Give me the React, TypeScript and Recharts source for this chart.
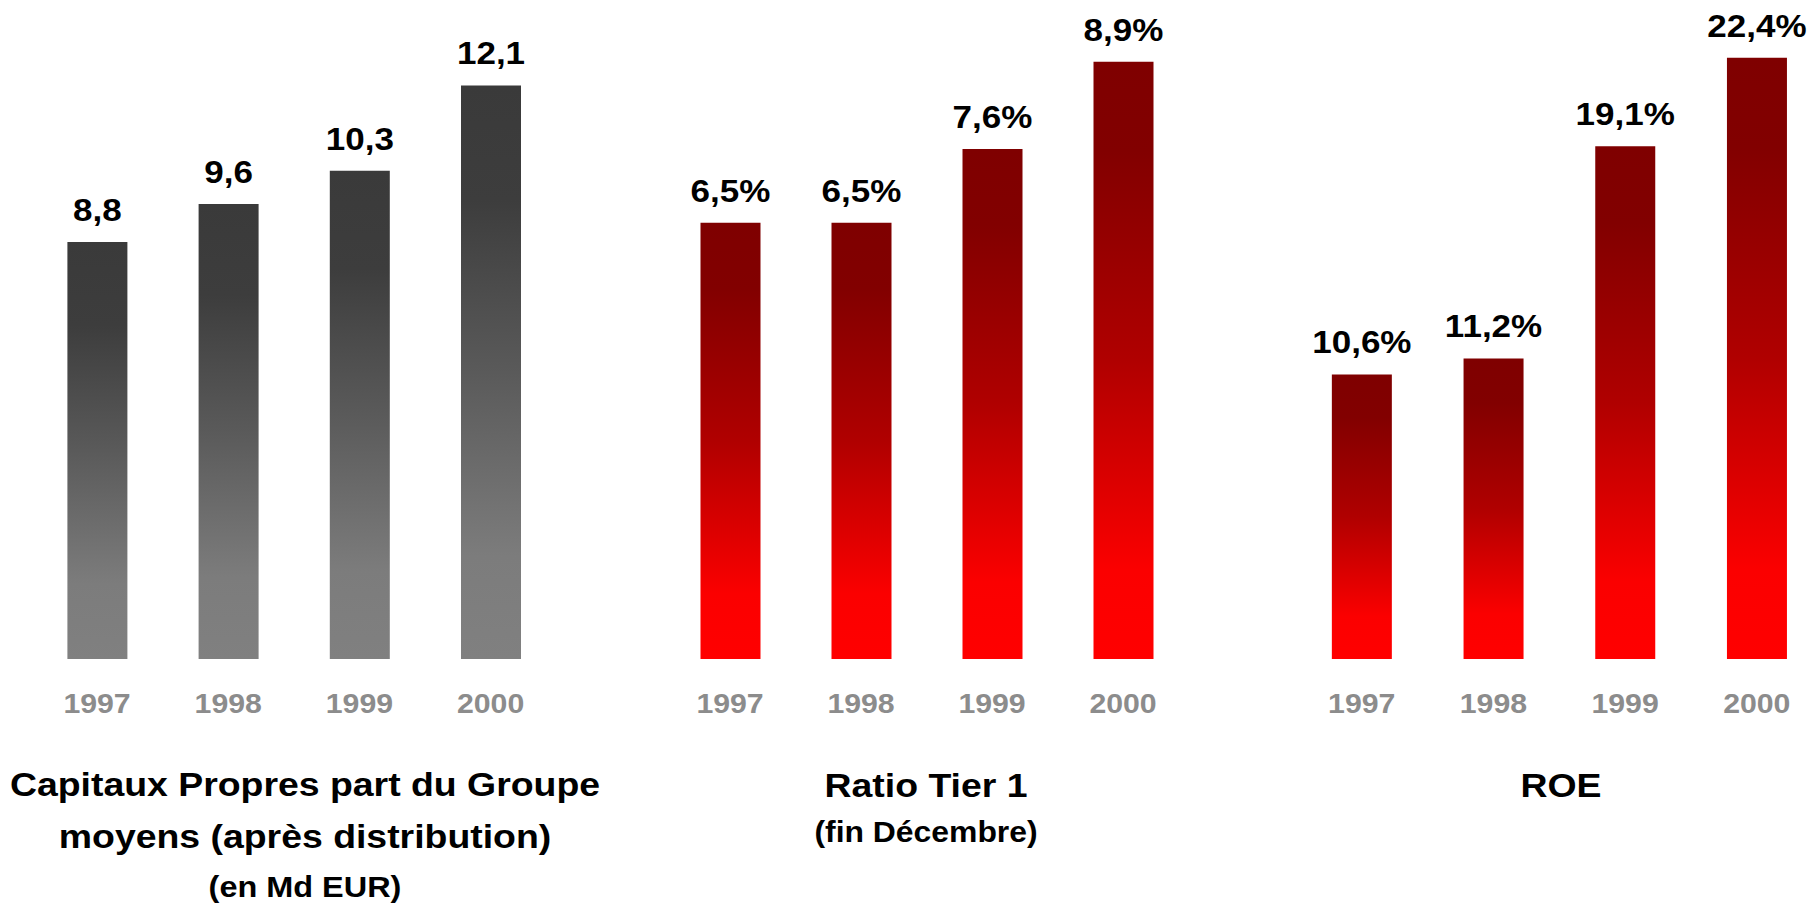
import React from "react";
import { BarChart, Bar, XAxis, YAxis, LabelList } from "recharts";

const years = ["1997", "1998", "1999", "2000"];
const capitauxValues = [8.8, 9.6, 10.3, 12.1];
const tier1Values = [6.5, 6.5, 7.6, 8.9];
const roeValues = [10.6, 11.2, 19.1, 22.4];

const FONT = "'Liberation Sans', Arial, Helvetica, sans-serif";
const STRETCH = 1.1;
const BASE = 659;

const fmt = (v: number, suffix: string) => v.toFixed(1).replace(".", ",") + suffix;

const YearTick = (props: any) => {
  const { x, y, payload } = props;
  return (
    <text
      transform={`translate(${x},${y + 54}) scale(1.08,1)`}
      textAnchor="middle"
      fontFamily={FONT}
      fontWeight="bold"
      fontSize={28}
      fill="#8c8c8c"
    >
      {payload.value}
    </text>
  );
};

const makeLabel = (suffix: string) => (props: any) => {
  const { x, y, width, value } = props;
  return (
    <text
      transform={`translate(${Number(x) + Number(width) / 2},${Number(y) - 21}) scale(1.13,1)`}
      textAnchor="middle"
      fontFamily={FONT}
      fontWeight="bold"
      fontSize={31}
      fill="#000"
    >
      {fmt(Number(value), suffix)}
    </text>
  );
};

// pixels per unit
const scales: Record<string, number> = { g1: 47.4, g2: 67.1, g3: 26.84 };
function topFor(domainMax: number, id: string) {
  return BASE - domainMax * scales[id];
}

type PanelProps = {
  left: number;
  width: number;
  marginLeft: number;
  marginRight: number;
  domainMax: number;
  values: number[];
  gradId: string;
  stops: { o: string; c: string }[];
  suffix: string;
};

const Panel = ({ left, width, marginLeft, marginRight, domainMax, values, gradId, stops, suffix }: PanelProps) => {
  const data = years.map((y, i) => ({ year: y, v: values[i] }));
  const H = 760;
  const axisH = H - BASE;
  return (
    <div style={{ position: "absolute", left, top: 0 }}>
      <BarChart
        width={width}
        height={H}
        data={data}
        margin={{ top: topFor(domainMax, gradId), right: marginRight, left: marginLeft, bottom: 0 }}
      >
        <defs>
          <linearGradient id={gradId} x1="0" y1="0" x2="0" y2="1">
            {stops.map((s, i) => (
              <stop key={i} offset={s.o} stopColor={s.c} />
            ))}
          </linearGradient>
        </defs>
        <XAxis
          dataKey="year"
          axisLine={false}
          tickLine={false}
          tickSize={0}
          tickMargin={0}
          height={axisH}
          interval={0}
          tick={<YearTick />}
        />
        <YAxis hide domain={[0, domainMax]} />
        <Bar dataKey="v" fill={`url(#${gradId})`} barSize={60} isAnimationActive={false}>
          <LabelList dataKey="v" content={makeLabel(suffix)} />
        </Bar>
      </BarChart>
    </div>
  );
};

const greyStops = [
  { o: "0%", c: "#3a3a3a" },
  { o: "20%", c: "#3d3d3d" },
  { o: "50%", c: "#5a5a5a" },
  { o: "82%", c: "#7c7c7c" },
  { o: "100%", c: "#808080" },
];
const redStops = [
  { o: "0%", c: "#7f0000" },
  { o: "15%", c: "#820000" },
  { o: "50%", c: "#b00000" },
  { o: "85%", c: "#fb0000" },
  { o: "100%", c: "#ff0000" },
];

const Title = ({ x, y, size, text }: { x: number; y: number; size: number; text: string }) => (
  <text
    transform={`translate(${x},${y}) scale(${STRETCH},1)`}
    textAnchor="middle"
    fontFamily={FONT}
    fontWeight="bold"
    fontSize={size}
    fill="#000"
  >
    {text}
  </text>
);

export default function App() {
  return (
    <div
      style={{
        position: "absolute",
        left: 0,
        top: 0,
        width: 1814,
        height: 904,
        overflow: "hidden",
        background: "#fff",
        fontFamily: FONT,
      }}
    >
      <Panel left={0} width={600} marginLeft={31.4} marginRight={43.8} domainMax={13} values={capitauxValues} gradId="g1" stops={greyStops} suffix="" />
      <Panel left={620} width={600} marginLeft={44.5} marginRight={31.5} domainMax={9.5} values={tier1Values} gradId="g2" stops={redStops} suffix="%" />
      <Panel left={1280} width={560} marginLeft={15.85} marginRight={17.35} domainMax={24} values={roeValues} gradId="g3" stops={redStops} suffix="%" />
      <svg width={1814} height={904} style={{ position: "absolute", left: 0, top: 0, pointerEvents: "none" }}>
        <Title x={305} y={796} size={34} text="Capitaux Propres part du Groupe" />
        <Title x={305} y={848} size={34} text="moyens (après distribution)" />
        <Title x={305} y={897} size={29.5} text="(en Md EUR)" />
        <Title x={926} y={797} size={34} text="Ratio Tier 1" />
        <Title x={926} y={842} size={29} text="(fin Décembre)" />
        <Title x={1561} y={797} size={34} text="ROE" />
      </svg>
    </div>
  );
}
